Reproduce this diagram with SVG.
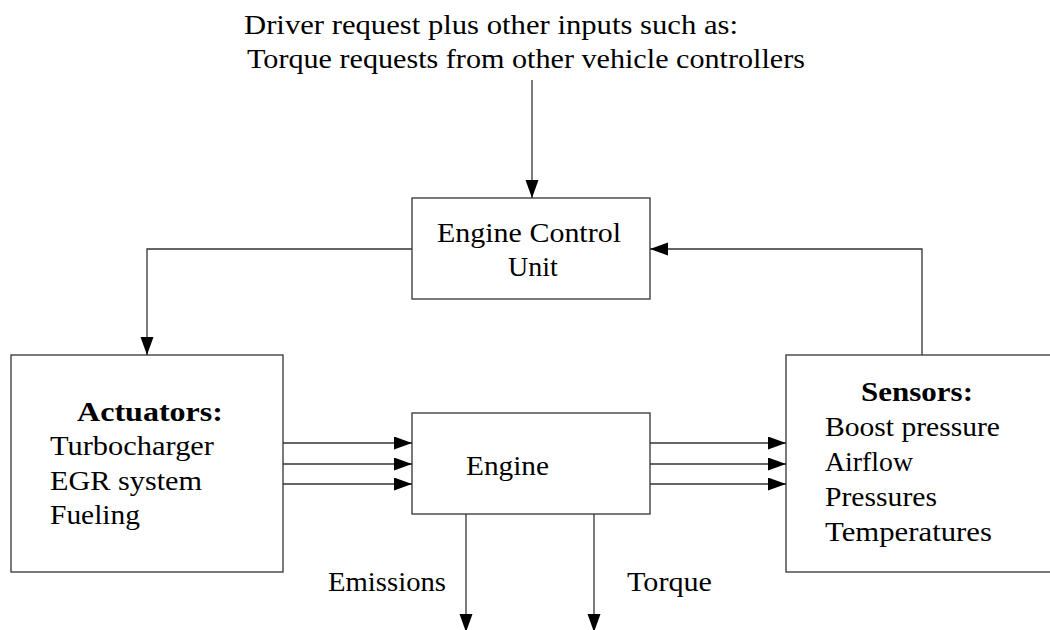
<svg xmlns="http://www.w3.org/2000/svg" width="1050" height="630" viewBox="0 0 1050 630">
  <style>
    .box { fill: #ffffff; stroke: #333333; stroke-width: 1.3; }
    .edge { fill: none; stroke: #333333; stroke-width: 1.3; }
    text { font-family: 'Liberation Serif', 'Times New Roman', serif; font-size: 28px; fill: #000000; }
    .b { font-weight: bold; }
    .m { text-anchor: middle; }
  </style>
  <defs>
    <marker id="arrow" markerUnits="userSpaceOnUse" markerWidth="19" markerHeight="14" refX="18" refY="6.5" orient="auto">
      <path d="M0,0 L18,6.5 L0,13 z" fill="#000000"/>
    </marker>
  </defs>
  <rect x="0" y="0" width="1050" height="630" fill="#ffffff"/>

  <g id="driver-input">
    <text x="244" y="34" textLength="494" lengthAdjust="spacingAndGlyphs">Driver request plus other inputs such as:</text>
    <text x="247" y="68" textLength="558" lengthAdjust="spacingAndGlyphs">Torque requests from other vehicle controllers</text>
  </g>

  <g id="ecu">
    <rect class="box" x="412" y="198" width="238" height="101"/>
    <text class="m" x="529" y="242" textLength="184" lengthAdjust="spacingAndGlyphs">Engine Control</text>
    <text class="m" x="533" y="276">Unit</text>
  </g>

  <g id="actuators">
    <rect class="box" x="11" y="355" width="272" height="217"/>
    <text class="b m" x="150" y="421" textLength="146" lengthAdjust="spacingAndGlyphs">Actuators:</text>
    <text x="50" y="455" textLength="164" lengthAdjust="spacingAndGlyphs">Turbocharger</text>
    <text x="50" y="490" textLength="152" lengthAdjust="spacingAndGlyphs">EGR system</text>
    <text x="50" y="524" textLength="90" lengthAdjust="spacingAndGlyphs">Fueling</text>
  </g>

  <g id="engine">
    <rect class="box" x="412" y="413" width="238" height="101"/>
    <text x="466" y="475" textLength="83" lengthAdjust="spacingAndGlyphs">Engine</text>
  </g>

  <g id="sensors">
    <rect class="box" x="786" y="355" width="270" height="217"/>
    <text class="b m" x="917" y="401" textLength="112" lengthAdjust="spacingAndGlyphs">Sensors:</text>
    <text x="825" y="436" textLength="175" lengthAdjust="spacingAndGlyphs">Boost pressure</text>
    <text x="825" y="471" textLength="88" lengthAdjust="spacingAndGlyphs">Airflow</text>
    <text x="825" y="506" textLength="112" lengthAdjust="spacingAndGlyphs">Pressures</text>
    <text x="825" y="541" textLength="167" lengthAdjust="spacingAndGlyphs">Temperatures</text>
  </g>

  <g id="connectors">
    <line class="edge" x1="532" y1="80" x2="532" y2="198" marker-end="url(#arrow)"/>
    <polyline class="edge" points="412,249 147,249 147,355" marker-end="url(#arrow)"/>
    <polyline class="edge" points="922,355 922,249 650,249" marker-end="url(#arrow)"/>
    <line class="edge" x1="283" y1="443" x2="412" y2="443" marker-end="url(#arrow)"/>
    <line class="edge" x1="283" y1="464" x2="412" y2="464" marker-end="url(#arrow)"/>
    <line class="edge" x1="283" y1="484" x2="412" y2="484" marker-end="url(#arrow)"/>
    <line class="edge" x1="650" y1="443" x2="786" y2="443" marker-end="url(#arrow)"/>
    <line class="edge" x1="650" y1="464" x2="786" y2="464" marker-end="url(#arrow)"/>
    <line class="edge" x1="650" y1="484" x2="786" y2="484" marker-end="url(#arrow)"/>
    <line class="edge" x1="466" y1="514" x2="466" y2="632" marker-end="url(#arrow)"/>
    <line class="edge" x1="594" y1="514" x2="594" y2="632" marker-end="url(#arrow)"/>
    <text x="328" y="591" textLength="118" lengthAdjust="spacingAndGlyphs">Emissions</text>
    <text x="627" y="591" textLength="85" lengthAdjust="spacingAndGlyphs">Torque</text>
  </g>
</svg>
